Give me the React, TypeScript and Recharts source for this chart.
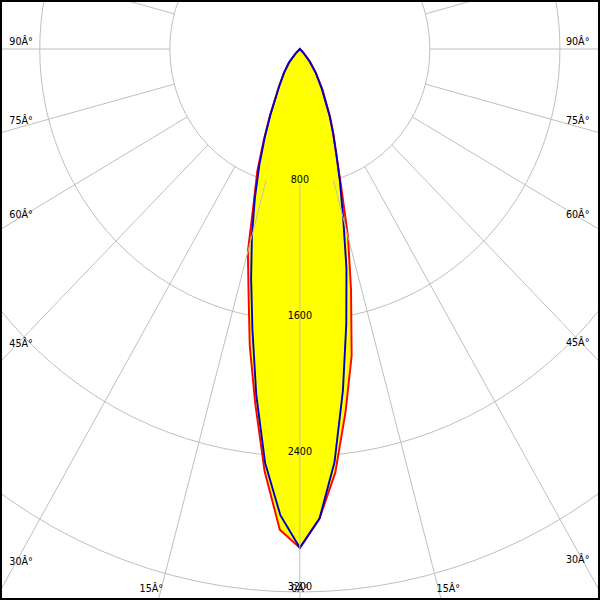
import React from "react";
import { RadarChart, Radar, PolarGrid, PolarAngleAxis, PolarRadiusAxis } from "recharts";

// gamma angles (deg from nadir), one half-plane each; intensity is 0 from 50 deg up
const GAMMA = [0, 2.5, 5, 7.5, 10, 12.5, 15, 17.5, 20, 22.5, 25, 30, 35, 40, 45, 50];
// red curve: C0 (right) and C180 (left), cd
const C0 = [2940, 2770, 2505, 2155, 1835, 1455, 1145, 840, 650, 540, 440, 280, 170, 100, 30, 0];
const C180 = [2940, 2835, 2495, 2105, 1775, 1460, 1235, 940, 765, 580, 440, 260, 165, 100, 30, 0];
// blue curve: C90 (right) and C270 (left), cd
const C90 = [2940, 2770, 2445, 2030, 1645, 1325, 1030, 820, 655, 530, 430, 270, 170, 85, 25, 0];
const C270 = [2940, 2750, 2450, 2055, 1680, 1385, 1140, 920, 730, 565, 430, 255, 170, 105, 40, 0];

const RADIUS_TICKS = [800, 1600, 2400, 3200];
const ANGLE_TICKS = [-180, -165, -150, -135, -120, -105, -90, -75, -60, -45, -30, -15, 0, 15, 30, 45, 60, 75, 90, 105, 120, 135, 150, 165];

const data: { angle: number; red: number; blue: number }[] = [];
for (let i = GAMMA.length - 1; i > 0; i--) data.push({ angle: -GAMMA[i], red: C180[i], blue: C270[i] });
for (let i = 0; i < GAMMA.length; i++) data.push({ angle: GAMMA[i], red: C0[i], blue: C90[i] });

const W = 626;
const H = 600;
const SX = 0.958; // picture is squeezed a bit horizontally
const CX = 313;
const CY = 49;
const PX_PER_CD = 543 / 3200;
const MAX_CD = 4000;
const OUTER = MAX_CD * PX_PER_CD;
const INNER = 800 * PX_PER_CD;

const GRID = "#bdbdbd";
const FONT = "DejaVu Sans";
const deg = "\u00C2\u00B0";

const AngleTick = (props: any) => {
  const a = Number(props.payload?.value);
  if (!(Math.abs(a) <= 90)) return <g />;
  const rad = (Math.abs(a) * Math.PI) / 180;
  const side = a < 0 ? -1 : a > 0 ? 1 : 0;
  let x: number;
  let y: number;
  if (Math.abs(a) <= 15) {
    y = 592;
    x = CX + (592 - CY - 3) * Math.tan(rad) * side + 40 * Math.sin(rad) * side;
  } else {
    const dx = side < 0 ? 291 : 290;
    x = CX + side * dx;
    const c = Math.cos(rad);
    y = CY + (Math.abs(a) === 90 ? 0 : dx / Math.tan(rad)) - 4 + 21.3 * c * c;
  }
  return (
    <text x={x} y={y} textAnchor="middle" fontFamily={FONT} fontSize={10} fill="#000">
      {`${Math.abs(a)}${deg}`}
    </text>
  );
};

const RadiusTick = (props: any) => (
  <text x={props.x} y={props.y - 1.5} textAnchor="middle" fontFamily={FONT} fontSize={10} fill="#000">
    {props.payload?.value}
  </text>
);

export default function App() {
  return (
    <div style={{ position: "absolute", left: 0, top: 0, width: 600, height: 600, overflow: "hidden", background: "#fff" }}>
      <div style={{ width: W, height: H, transform: `scaleX(${SX})`, transformOrigin: "0 0" }}>
        <RadarChart
          width={W}
          height={H}
          data={data}
          cx={CX}
          cy={CY}
          outerRadius={OUTER}
          startAngle={-270}
          endAngle={90}
          margin={{ top: 0, right: 0, bottom: 0, left: 0 }}
        >
          <Radar dataKey="red" fill="#ffff00" fillOpacity={1} stroke="none" dot={false} activeDot={false} isAnimationActive={false} />
          <Radar dataKey="blue" fill="#ffff00" fillOpacity={1} stroke="none" dot={false} activeDot={false} isAnimationActive={false} />
          <PolarGrid gridType="circle" radialLines={false} stroke={GRID} />
          <PolarAngleAxis
            dataKey="angle"
            type="number"
            domain={[-180, 180]}
            ticks={ANGLE_TICKS}
            axisLine={false}
            orientation="inner"
            tickSize={OUTER - INNER}
            tickLine={{ stroke: GRID }}
            tick={AngleTick}
          />
          <PolarRadiusAxis
            type="number"
            domain={[0, MAX_CD]}
            ticks={RADIUS_TICKS}
            angle={-90}
            axisLine={false}
            tickLine={false}
            tick={RadiusTick}
          />
          <Radar dataKey="red" fill="none" fillOpacity={0} stroke="#ff0000" strokeWidth={2} strokeLinejoin="miter" dot={false} activeDot={false} isAnimationActive={false} />
          <Radar dataKey="blue" fill="none" fillOpacity={0} stroke="#0000c8" strokeWidth={2} strokeLinejoin="miter" dot={false} activeDot={false} isAnimationActive={false} />
        </RadarChart>
      </div>
      <div style={{ position: "absolute", left: 0, top: 0, width: 600, height: 600, boxSizing: "border-box", border: "2px solid #000", pointerEvents: "none" }} />
    </div>
  );
}
